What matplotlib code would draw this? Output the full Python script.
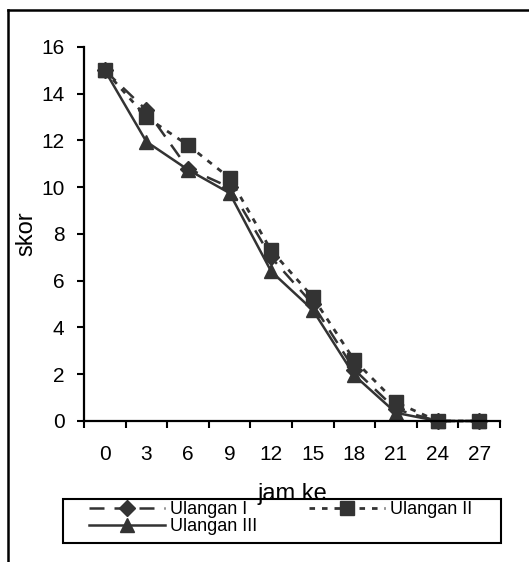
import numpy as np
import matplotlib.pyplot as plt
from matplotlib.lines import Line2D
from matplotlib.patches import Rectangle

plt.rcParams['font.family'] = ['Liberation Sans', 'DejaVu Sans']

jam = ['0', '3', '6', '9', '12', '15', '18', '21', '24', '27']
ulangan_1 = [15, 13.3, 10.8, 10.0, 7.0, 5.0, 2.2, 0.5, 0, 0]
ulangan_2 = [15, 13.0, 11.8, 10.4, 7.3, 5.3, 2.6, 0.8, 0, 0]
ulangan_3 = [15, 11.95, 10.75, 9.75, 6.4, 4.75, 1.95, 0.35, 0, 0]

warna = '#333333'
x = np.arange(len(jam))

fig = plt.figure(figsize=(5.29, 5.62), dpi=100)
ax = fig.add_axes([0.1588, 0.2509, 0.7862, 0.6655])

l1, = ax.plot(x, ulangan_1, color=warna, lw=1.8, dashes=(6, 4),
              marker='D', ms=8.5, mfc=warna, mec=warna, clip_on=False, label='Ulangan I')
l2, = ax.plot(x, ulangan_2, color=warna, lw=2.0, dashes=(2, 2.5),
              marker='s', ms=10.5, mfc=warna, mec=warna, clip_on=False, label='Ulangan II')
l3, = ax.plot(x, ulangan_3, color=warna, lw=1.8, ls='-',
              marker='^', ms=10.5, mfc=warna, mec=warna, clip_on=False, label='Ulangan III')

ax.set_xlim(-0.5, len(jam) - 0.5)
ax.set_ylim(0, 16)
ax.set_yticks(range(0, 17, 2))
ax.set_xticks(x)
ax.set_xticklabels(jam)
ax.set_xticks(np.arange(-0.5, len(jam)), minor=True)
ax.tick_params(axis='x', which='major', length=0, pad=17, labelsize=15)
ax.tick_params(axis='x', which='minor', length=5, width=1.5, direction='out')
ax.tick_params(axis='y', length=5, width=1.5, direction='out', labelsize=15, pad=9)

for s in ['top', 'right']:
    ax.spines[s].set_visible(False)
for s in ['left', 'bottom']:
    ax.spines[s].set_linewidth(1.6)

ax.set_xlabel('jam ke', fontsize=17, labelpad=14)
ax.set_ylabel('skor', fontsize=17, labelpad=3)

# legend box drawn separately so the entries can sit inside with wide margins
fig.add_artist(Rectangle((0.119, 0.034), 0.828, 0.078, transform=fig.transFigure,
                         fill=False, edgecolor='black', lw=1.5))
leg = fig.legend([l1, l3, l2], ['Ulangan I', 'Ulangan III', 'Ulangan II'],
                 ncol=2, loc='upper left', mode='expand',
                 bbox_to_anchor=(0.168, 0.04, 0.725, 0.068),
                 fontsize=13, handlelength=4.2, frameon=False,
                 borderpad=0.0, labelspacing=0.0, handletextpad=0.3,
                 columnspacing=1.0, borderaxespad=0)

# outer frame (only left and top visible)
fig.add_artist(Line2D([0.016, 0.016], [0, 0.982], color='black', lw=1.8,
                      transform=fig.transFigure))
fig.add_artist(Line2D([0.016, 1.0], [0.982, 0.982], color='black', lw=1.8,
                      transform=fig.transFigure))

fig.savefig('out.png', dpi=100)
